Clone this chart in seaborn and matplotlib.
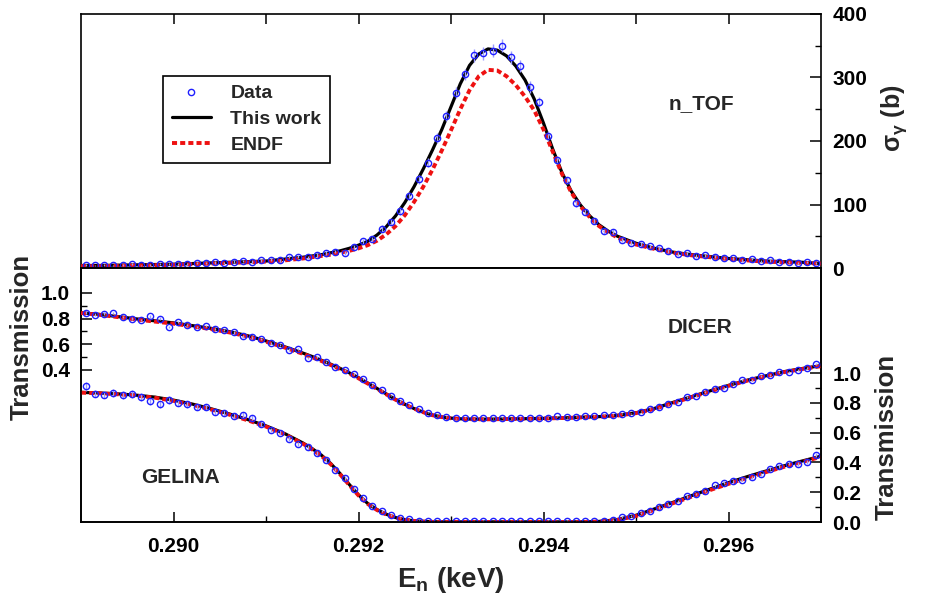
import matplotlib
matplotlib.use("Agg")
import matplotlib.pyplot as plt
import seaborn as sns
from matplotlib.lines import Line2D
from matplotlib.ticker import FixedLocator, FormatStrFormatter

# energy grid of the calculated curves (keV)
e_fit = [0.2890, 0.2892, 0.2894, 0.2896, 0.2898, 0.2900, 0.2902, 0.2904, 0.2906, 0.2908,
         0.2910, 0.2912, 0.2914, 0.2915, 0.2916, 0.2917, 0.2918, 0.2919, 0.2920, 0.2921,
         0.2922, 0.2923, 0.2924, 0.2925, 0.2926, 0.2927, 0.2928, 0.2929, 0.2930, 0.2931,
         0.2932, 0.2933, 0.2934, 0.2935, 0.2936, 0.2937, 0.2938, 0.2939, 0.2940, 0.2941,
         0.2942, 0.2943, 0.2944, 0.2945, 0.2946, 0.2947, 0.2948, 0.2950, 0.2952, 0.2954,
         0.2956, 0.2958, 0.2960, 0.2962, 0.2964, 0.2966, 0.2968, 0.2970]

# n_TOF capture cross section (b)
sg_fit = [4, 4, 4.5, 5, 5.5, 6, 7, 8, 9, 10,
          11, 14, 17, 19, 21, 24, 27, 31, 36, 42,
          52, 65, 82, 103, 128, 156, 186, 218, 254, 290,
          319, 337, 345, 343, 334, 318, 296, 266, 228, 187,
          150, 121, 99, 82, 68, 58, 50, 39, 31, 25,
          21, 18, 15, 13, 11, 10, 9, 7]
sg_endf = [3, 3, 3.5, 4, 4.5, 5, 6, 7, 8, 9,
           10, 12, 15, 17, 19, 21, 24, 27, 31, 36,
           43, 53, 66, 83, 104, 128, 155, 185, 217, 250,
           280, 302, 312, 311, 302, 288, 270, 248, 218, 183,
           148, 119, 97, 80, 66, 56, 48, 37, 30, 24,
           20, 17, 14, 12, 10, 9, 8, 7]

# DICER transmission (left axis)
dicer_fit = [0.845, 0.832, 0.815, 0.797, 0.782, 0.766, 0.745, 0.724, 0.698, 0.666,
             0.625, 0.580, 0.530, 0.503, 0.474, 0.443, 0.411, 0.376, 0.338, 0.296,
             0.254, 0.211, 0.168, 0.130, 0.097, 0.069, 0.046, 0.031, 0.022, 0.017,
             0.015, 0.014, 0.014, 0.015, 0.016, 0.017, 0.018, 0.019, 0.020, 0.022,
             0.024, 0.026, 0.029, 0.031, 0.034, 0.038, 0.044, 0.064, 0.098, 0.145,
             0.190, 0.235, 0.278, 0.318, 0.352, 0.385, 0.410, 0.432]
dicer_endf = [0.843, 0.829, 0.811, 0.792, 0.776, 0.760, 0.739, 0.718, 0.692, 0.660,
              0.619, 0.574, 0.524, 0.497, 0.468, 0.437, 0.405, 0.370, 0.333, 0.292,
              0.250, 0.208, 0.166, 0.128, 0.096, 0.068, 0.045, 0.030, 0.021, 0.016,
              0.014, 0.013, 0.013, 0.014, 0.015, 0.016, 0.017, 0.018, 0.019, 0.021,
              0.023, 0.025, 0.027, 0.030, 0.033, 0.037, 0.042, 0.061, 0.094, 0.140,
              0.186, 0.231, 0.274, 0.314, 0.349, 0.381, 0.406, 0.428]

# GELINA transmission (right axis)
gelina_fit = [0.870, 0.866, 0.860, 0.851, 0.838, 0.818, 0.792, 0.761, 0.726, 0.688,
              0.645, 0.594, 0.530, 0.492, 0.448, 0.392, 0.325, 0.252, 0.182, 0.124,
              0.083, 0.052, 0.030, 0.016, 0.008, 0.004, 0.002, 0.001, 0.001, 0.001,
              0.001, 0.001, 0.001, 0.001, 0.001, 0.001, 0.001, 0.001, 0.001, 0.001,
              0.001, 0.001, 0.001, 0.002, 0.004, 0.009, 0.017, 0.045, 0.088, 0.132,
              0.177, 0.221, 0.264, 0.304, 0.341, 0.377, 0.410, 0.442]
gelina_endf = [0.868, 0.864, 0.857, 0.848, 0.834, 0.813, 0.787, 0.756, 0.721, 0.683,
               0.640, 0.589, 0.525, 0.487, 0.443, 0.387, 0.320, 0.248, 0.178, 0.121,
               0.080, 0.050, 0.029, 0.015, 0.007, 0.003, 0.001, 0.0, 0.0, 0.0,
               0.0, 0.0, 0.0, 0.0, 0.0, 0.0, 0.0, 0.0, 0.0, 0.0,
               0.0, 0.0, 0.0, 0.001, 0.003, 0.007, 0.014, 0.040, 0.082, 0.126,
               0.170, 0.214, 0.256, 0.296, 0.334, 0.370, 0.404, 0.437]

# measured points
e_data = [0.28905, 0.28915, 0.28925, 0.28935, 0.28945, 0.28955, 0.28965, 0.28975, 0.28985, 0.28995,
          0.29005, 0.29015, 0.29025, 0.29035, 0.29045, 0.29055, 0.29065, 0.29075, 0.29085, 0.29095,
          0.29105, 0.29115, 0.29125, 0.29135, 0.29145, 0.29155, 0.29165, 0.29175, 0.29185, 0.29195,
          0.29205, 0.29215, 0.29225, 0.29235, 0.29245, 0.29255, 0.29265, 0.29275, 0.29285, 0.29295,
          0.29305, 0.29315, 0.29325, 0.29335, 0.29345, 0.29355, 0.29365, 0.29375, 0.29385, 0.29395,
          0.29405, 0.29415, 0.29425, 0.29435, 0.29445, 0.29455, 0.29465, 0.29475, 0.29485, 0.29495,
          0.29505, 0.29515, 0.29525, 0.29535, 0.29545, 0.29555, 0.29565, 0.29575, 0.29585, 0.29595,
          0.29605, 0.29615, 0.29625, 0.29635, 0.29645, 0.29655, 0.29665, 0.29675, 0.29685, 0.29695]
sg_data = [5, 4, 5, 4, 5, 6, 4, 5, 7, 6,
           7, 6, 8, 8, 9, 8, 10, 11, 10, 12,
           13, 12, 18, 18, 17, 21, 24, 26, 24, 33,
           42, 45, 62, 72, 90, 113, 140, 166, 205, 240,
           276, 305, 335, 338, 342, 350, 332, 318, 285, 262,
           208, 170, 138, 102, 88, 74, 58, 57, 44, 40,
           38, 34, 31, 27, 22, 23, 19, 20, 18, 16,
           15, 12, 14, 11, 12, 10, 10, 8, 10, 8]
sg_err = [1.5, 1.5, 1.5, 1.5, 1.5, 1.5, 1.5, 1.5, 1.5, 1.5,
          1.5, 1.5, 1.5, 1.5, 2, 2, 2, 2, 2, 2,
          2, 2, 2.5, 2.5, 2.5, 3, 3, 3, 3, 3.5,
          4, 4, 5, 5, 6, 6, 7, 7, 8, 8,
          9, 9, 10, 10, 10, 10, 10, 9, 9, 8,
          8, 7, 6, 6, 5, 5, 4, 4, 3.5, 3.5,
          3, 3, 3, 3, 2.5, 2.5, 2.5, 2.5, 2, 2,
          2, 2, 2, 2, 2, 1.5, 1.5, 1.5, 1.5, 1.5]
dicer_data = [0.845, 0.830, 0.838, 0.842, 0.812, 0.800, 0.790, 0.818, 0.800, 0.735,
              0.775, 0.748, 0.732, 0.742, 0.717, 0.712, 0.692, 0.660, 0.652, 0.642,
              0.610, 0.595, 0.558, 0.560, 0.492, 0.498, 0.462, 0.425, 0.397, 0.365,
              0.328, 0.282, 0.238, 0.198, 0.155, 0.122, 0.092, 0.066, 0.046, 0.034,
              0.022, 0.024, 0.020, 0.022, 0.020, 0.024, 0.022, 0.026, 0.022, 0.027,
              0.025, 0.036, 0.030, 0.032, 0.038, 0.040, 0.048, 0.050, 0.056, 0.062,
              0.072, 0.095, 0.108, 0.130, 0.150, 0.186, 0.197, 0.225, 0.252, 0.260,
              0.292, 0.318, 0.322, 0.350, 0.358, 0.380, 0.385, 0.398, 0.412, 0.448]
dicer_err = [0.01, 0.01, 0.01, 0.01, 0.01, 0.01, 0.01, 0.01, 0.01, 0.01,
             0.009, 0.009, 0.009, 0.009, 0.009, 0.009, 0.009, 0.009, 0.009, 0.009,
             0.008, 0.008, 0.008, 0.008, 0.008, 0.008, 0.007, 0.007, 0.007, 0.007,
             0.006, 0.006, 0.006, 0.005, 0.005, 0.005, 0.004, 0.004, 0.004, 0.004,
             0.004, 0.004, 0.004, 0.004, 0.004, 0.004, 0.004, 0.004, 0.004, 0.004,
             0.004, 0.004, 0.004, 0.004, 0.004, 0.004, 0.004, 0.004, 0.004, 0.004,
             0.005, 0.005, 0.005, 0.005, 0.006, 0.006, 0.006, 0.006, 0.006, 0.007,
             0.007, 0.007, 0.007, 0.007, 0.007, 0.008, 0.008, 0.008, 0.008, 0.008]
gelina_data = [0.912, 0.862, 0.855, 0.865, 0.852, 0.858, 0.838, 0.810, 0.790, 0.818,
               0.800, 0.790, 0.775, 0.770, 0.738, 0.732, 0.712, 0.718, 0.700, 0.660,
               0.618, 0.600, 0.560, 0.522, 0.505, 0.465, 0.416, 0.352, 0.295, 0.222,
               0.158, 0.108, 0.072, 0.046, 0.030, 0.018, 0.010, 0.006, 0.004, 0.005,
               0.004, 0.006, 0.005, 0.007, 0.005, 0.006, 0.004, 0.007, 0.006, 0.005,
               0.008, 0.005, 0.007, 0.004, 0.006, 0.005, 0.008, 0.015, 0.032, 0.040,
               0.060, 0.075, 0.098, 0.118, 0.140, 0.172, 0.188, 0.208, 0.245, 0.265,
               0.275, 0.282, 0.300, 0.320, 0.358, 0.375, 0.392, 0.388, 0.402, 0.448]
gelina_err = [0.03, 0.025, 0.025, 0.025, 0.025, 0.025, 0.025, 0.025, 0.025, 0.025,
              0.022, 0.022, 0.022, 0.02, 0.02, 0.02, 0.02, 0.018, 0.018, 0.018,
              0.016, 0.016, 0.015, 0.015, 0.014, 0.014, 0.013, 0.012, 0.011, 0.01,
              0.008, 0.007, 0.006, 0.005, 0.005, 0.004, 0.004, 0.004, 0.004, 0.004,
              0.004, 0.004, 0.004, 0.004, 0.004, 0.004, 0.004, 0.004, 0.004, 0.004,
              0.004, 0.004, 0.004, 0.004, 0.004, 0.004, 0.004, 0.005, 0.006, 0.006,
              0.007, 0.007, 0.008, 0.008, 0.008, 0.009, 0.009, 0.009, 0.01, 0.01,
              0.01, 0.01, 0.01, 0.011, 0.011, 0.011, 0.011, 0.012, 0.012, 0.012]

x_major = [0.290, 0.292, 0.294, 0.296]
x_minor = [0.291, 0.293, 0.295]

sns.set_style("ticks", {"axes.edgecolor": "black", "xtick.color": "black",
                        "ytick.color": "black", "xtick.direction": "in",
                        "ytick.direction": "in"})
plt.rcParams["font.family"] = ["Liberation Sans", "DejaVu Sans"]
plt.rcParams["font.weight"] = "bold"
plt.rcParams["axes.labelweight"] = "bold"
plt.rcParams["mathtext.fontset"] = "custom"
plt.rcParams["mathtext.rm"] = "Liberation Sans:bold"
plt.rcParams["mathtext.it"] = "Liberation Sans:bold"
plt.rcParams["mathtext.bf"] = "Liberation Sans:bold"
plt.rcParams["mathtext.default"] = "rm"
plt.rcParams["axes.linewidth"] = 1.2

BLUE = "#1f1fff"
ERR = "#9b9bff"
RED = "#ee1111"
DASH = (0, (1.3, 0.8))

fig = plt.figure(figsize=(9.25, 6), dpi=100)
ax_top = fig.add_axes([0.0876, 0.5533, 0.8, 0.4234])
ax_bot = fig.add_axes([0.0876, 0.13, 0.8, 0.4234])
ax_dic = ax_bot.twinx()


def draw_set(ax, y_fit, y_endf, y_data, y_err):
    sns.lineplot(x=e_fit, y=y_fit, ax=ax, color="black", lw=2.3,
                 sort=False, estimator=None, zorder=2)
    sns.lineplot(x=e_fit, y=y_endf, ax=ax, color=RED, lw=2.8, linestyle=DASH,
                 sort=False, estimator=None, zorder=3)
    ax.errorbar(e_data, y_data, yerr=y_err, fmt="o", ms=4.5, mfc="none", mec=BLUE,
                mew=1.0, ecolor=ERR, elinewidth=1.0, capsize=0, zorder=4)


# --- n_TOF capture panel
draw_set(ax_top, sg_fit, sg_endf, sg_data, sg_err)
ax_top.set_xlim(0.289, 0.297)
ax_top.set_ylim(0, 400)
ax_top.xaxis.set_major_locator(FixedLocator(x_major + x_minor))
ax_top.tick_params(axis="x", which="both", top=True, bottom=False,
                   labeltop=False, labelbottom=False, length=7, width=1.1)
ax_top.yaxis.tick_right()
ax_top.yaxis.set_label_position("right")
ax_top.yaxis.set_major_locator(FixedLocator([0, 100, 200, 300, 400]))
ax_top.yaxis.set_minor_locator(FixedLocator([50, 150, 250, 350]))
ax_top.tick_params(axis="y", which="major", length=8, width=1.1, labelsize=15, pad=8)
ax_top.tick_params(axis="y", which="minor", length=4, width=1.0)
ax_top.set_ylabel(r"$\sigma_{\gamma}$ (b)", fontsize=18, rotation=90)
ax_top.yaxis.set_label_coords(1.079, 0.59)
ax_top.set_xlabel("")
ax_top.text(0.839, 0.646, "n_TOF", transform=ax_top.transAxes,
            ha="center", va="center", fontsize=15, fontweight="bold")

handles = [Line2D([], [], ls="none", marker="o", ms=4.5, mfc="none", mec=BLUE, mew=1.0),
           Line2D([], [], color="black", lw=2.3),
           Line2D([], [], color=RED, lw=2.8, ls=DASH)]
leg = ax_top.legend(handles, ["Data", "This work", "ENDF"], loc="upper left",
                    bbox_to_anchor=(0.111, 0.756), borderaxespad=0, frameon=True,
                    fancybox=False, edgecolor="black", framealpha=1, fontsize=14,
                    handlelength=2.0, handletextpad=1.0, labelspacing=0.42,
                    borderpad=0.45)
leg.get_frame().set_linewidth(1.2)

# --- transmission panel: GELINA on right axis, DICER on left axis
draw_set(ax_bot, gelina_fit, gelina_endf, gelina_data, gelina_err)
draw_set(ax_dic, dicer_fit, dicer_endf, dicer_data, dicer_err)

ax_bot.set_xlim(0.289, 0.297)
ax_bot.set_ylim(0, 1.705)
ax_dic.set_ylim(-0.789, 1.195)

ax_bot.xaxis.set_major_locator(FixedLocator(x_major))
ax_bot.xaxis.set_minor_locator(FixedLocator(x_minor))
ax_bot.xaxis.set_major_formatter(FormatStrFormatter("%.3f"))
ax_bot.tick_params(axis="x", which="major", top=False, bottom=True, length=7,
                   width=1.1, labelsize=15, pad=11)
ax_bot.tick_params(axis="x", which="minor", top=False, bottom=True, length=4, width=1.0)
ax_bot.set_xlabel("E$_n$ (keV)", fontsize=20, labelpad=6)

ax_bot.yaxis.tick_right()
ax_bot.yaxis.set_label_position("right")
ax_bot.yaxis.set_major_locator(FixedLocator([0.0, 0.2, 0.4, 0.6, 0.8, 1.0]))
ax_bot.yaxis.set_minor_locator(FixedLocator([0.1, 0.3, 0.5, 0.7, 0.9]))
ax_bot.yaxis.set_major_formatter(FormatStrFormatter("%.1f"))
ax_bot.tick_params(axis="y", which="major", left=False, right=True, length=8,
                   width=1.1, labelsize=15, pad=8)
ax_bot.tick_params(axis="y", which="minor", left=False, right=True, length=4, width=1.0)
ax_bot.set_ylabel("Transmission", fontsize=18.5, rotation=90)
ax_bot.yaxis.set_label_coords(1.072, 0.335)

ax_dic.yaxis.tick_left()
ax_dic.yaxis.set_label_position("left")
ax_dic.yaxis.set_major_locator(FixedLocator([0.4, 0.6, 0.8, 1.0]))
ax_dic.yaxis.set_minor_locator(FixedLocator([0.5, 0.7, 0.9]))
ax_dic.yaxis.set_major_formatter(FormatStrFormatter("%.1f"))
ax_dic.tick_params(axis="y", which="major", left=True, right=False, length=8,
                   width=1.1, labelsize=15, pad=8)
ax_dic.tick_params(axis="y", which="minor", left=True, right=False, length=4, width=1.0)
ax_dic.set_ylabel("Transmission", fontsize=18.5, rotation=90)
ax_dic.yaxis.set_label_coords(-0.064, 0.728)

ax_bot.text(0.836, 0.764, "DICER", transform=ax_bot.transAxes,
            ha="center", va="center", fontsize=15, fontweight="bold")
ax_bot.text(0.134, 0.177, "GELINA", transform=ax_bot.transAxes,
            ha="center", va="center", fontsize=15, fontweight="bold")

fig.savefig("out.png", dpi=100)
